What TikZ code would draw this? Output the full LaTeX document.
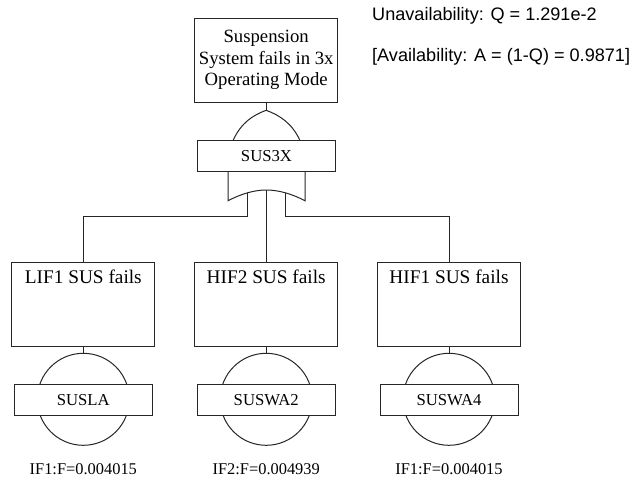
\documentclass[tikz,border=0pt]{standalone}
\usepackage{fontspec}
\setmainfont{Liberation Serif}
\newfontfamily\notefont{Liberation Sans}
\usepackage{xcolor}
\definecolor{scheme}{rgb}{0.15,0.15,0.15}

\begin{document}
\begin{tikzpicture}[x=1pt,y=-1pt,line width=1pt,
	eventbox/.style={draw=scheme,fill=white,minimum width=143pt,minimum height=84pt,inner sep=0pt,align=center,font=\fontsize{18.7}{21.5}\selectfont},
	sidebox/.style={draw=scheme,fill=white,minimum width=143pt,inner sep=0pt,text height=21pt,text depth=63pt,font=\fontsize{19.3}{21.5}\selectfont},
	namebox/.style={draw=scheme,fill=white,minimum height=31pt,inner sep=0pt,font=\fontsize{16.7}{18}\selectfont},
	ratetext/.style={anchor=base,inner sep=0pt,font=\fontsize{16.4}{18}\selectfont},
	notetext/.style={anchor=base west,inner sep=0pt,font=\notefont\fontsize{18.1}{20}\selectfont}]
	\useasboundingbox (0,0) rectangle (635,482);

	\coordinate (a0) at (266.2,110.3);
	\coordinate (a1) at (233.3,140);
	\coordinate (a2) at (299.7,140);
	\coordinate (g1) at (228,200.7);
	\coordinate (g2) at (305,200.7);
	\coordinate (g3) at (266.2,190);
	\coordinate (i1) at (247.3,193);
	\coordinate (i3) at (285.3,193);
	\coordinate (t1) at (83.3,216.7);
	\coordinate (t3) at (449,216.7);
	\coordinate (c1) at (83.3,399.3);
	\coordinate (c2) at (266.2,399.3);
	\coordinate (c3) at (449,399.3);

	\node (top) at (266.2,60.2) [eventbox] {Suspension\\System fails in 3x\\Operating Mode};
	\node (lif1) at (83.3,304) [sidebox] {LIF1 SUS fails};
	\node (hif2) at (266.2,304) [sidebox] {HIF2 SUS fails};
	\node (hif1) at (449,304) [sidebox] {HIF1 SUS fails};

	\draw[scheme] (top.south) to[] (a0);
	\draw[scheme] (a1) .. controls (241,123) and (253,115) .. (a0) .. controls (279,115) and (292,123) .. (a2);
	\draw[scheme] (228,171) to[] (g1) .. controls (241,194) and (254,190) .. (g3) .. controls (279,190) and (292,194) .. (g2) to[] (305,171);
	\draw[scheme] (g3) to[] (hif2.north);
	\draw[scheme] (i1) to[] (247.3,216.7) to[] (t1) to[] (lif1.north);
	\draw[scheme] (i3) to[] (285.3,216.7) to[] (t3) to[] (hif1.north);

	\draw[scheme] (c1) circle (46);
	\draw[scheme] (c2) circle (46);
	\draw[scheme] (c3) circle (46);
	\draw[scheme] (lif1.south) to[] (83.3,353.3);
	\draw[scheme] (hif2.south) to[] (266.2,353.3);
	\draw[scheme] (hif1.south) to[] (449,353.3);

	\node (sus3x) at (266.5,155.7) [namebox,minimum width=137.6pt] {SUS3X};
	\node (susla) at (83.3,399.7) [namebox,minimum width=138pt] {SUSLA};
	\node (suswa2) at (266.2,399.7) [namebox,minimum width=138pt] {SUSWA2};
	\node (suswa4) at (449,399.7) [namebox,minimum width=138pt] {SUSWA4};

	\node (rate1) at (83.3,474) [ratetext] {IF1:F=0.004015};
	\node (rate2) at (266.2,474) [ratetext] {IF2:F=0.004939};
	\node (rate3) at (449,474) [ratetext] {IF1:F=0.004015};

	\node (note1) at (371.7,20) [notetext] {Unavailability: Q = 1.291e-2};
	\node (note2) at (371.7,61.7) [notetext] {[Availability: A = (1-Q) = 0.9871]};
\end{tikzpicture}
\end{document}
